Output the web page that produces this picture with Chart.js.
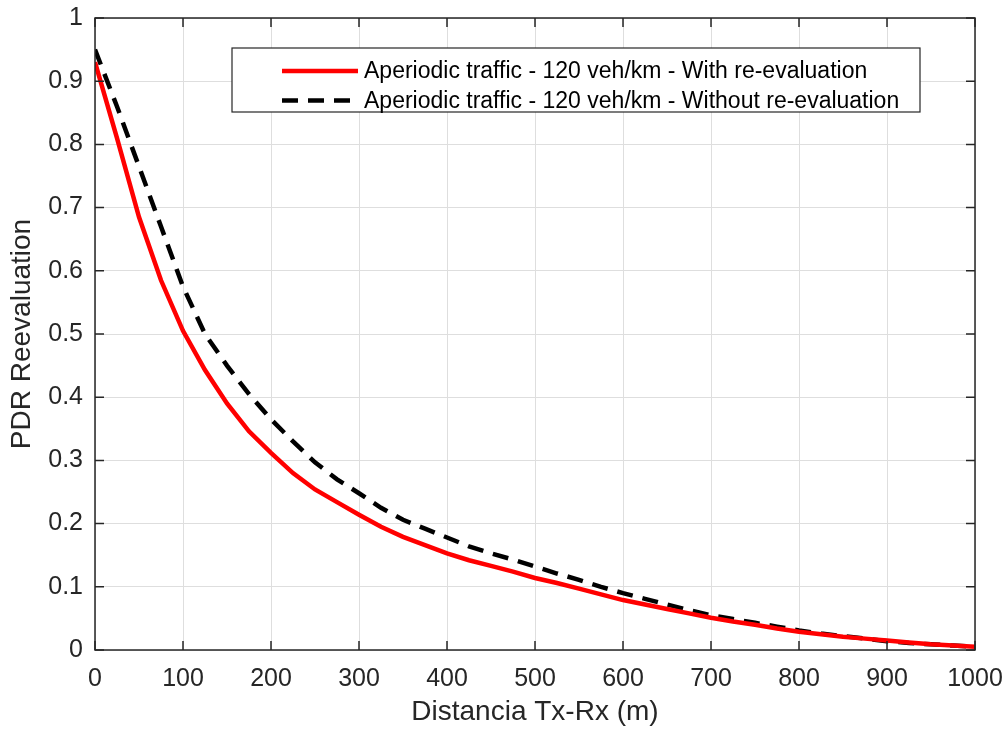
<!DOCTYPE html>
<html>
<head>
<meta charset="utf-8">
<script src="https://cdn.jsdelivr.net/npm/chart.js@4/dist/chart.umd.min.js"></script>
<style>
  html, body { margin: 0; padding: 0; background: #fff; }
  #wrap { width: 1006px; height: 729px; }
</style>
</head>
<body>
<div id="wrap"><canvas id="pdr-canvas"></canvas></div>
<script>
    'use strict';

    // distance in metres, every 25 m
    var distances = [0, 25, 50, 75, 100, 125, 150, 175, 200, 225, 250, 275, 300, 325, 350, 375, 400,
        425, 450, 475, 500, 525, 550, 575, 600, 625, 650, 675, 700, 725, 750, 775, 800,
        825, 850, 875, 900, 925, 950, 975, 1000];

    var pdrWith = [0.93, 0.81, 0.685, 0.585, 0.505, 0.443, 0.39, 0.346, 0.312, 0.28, 0.254, 0.234, 0.214, 0.195, 0.179, 0.166, 0.153,
        0.142, 0.133, 0.124, 0.114, 0.106, 0.097, 0.088, 0.079, 0.072, 0.065, 0.058, 0.051, 0.045, 0.04, 0.034, 0.029,
        0.025, 0.021, 0.018, 0.015, 0.012, 0.009, 0.007, 0.005];

    var pdrWithout = [0.95, 0.86, 0.765, 0.67, 0.575, 0.5, 0.45, 0.405, 0.365, 0.33, 0.297, 0.27, 0.248, 0.225, 0.206, 0.192, 0.178,
        0.164, 0.153, 0.143, 0.132, 0.121, 0.111, 0.1, 0.09, 0.081, 0.072, 0.063, 0.055, 0.049, 0.043, 0.037, 0.031,
        0.026, 0.022, 0.018, 0.014, 0.011, 0.009, 0.007, 0.005];

    var seriesLabels = [
        'Aperiodic traffic - 120 veh/km - With re-evaluation',
        'Aperiodic traffic - 120 veh/km - Without re-evaluation'
    ];

    var xTicks = [0, 100, 200, 300, 400, 500, 600, 700, 800, 900, 1000];
    var yTicks = [0, 0.1, 0.2, 0.3, 0.4, 0.5, 0.6, 0.7, 0.8, 0.9, 1];

    var axisColor = '#262626';
    var fontFamily = 'Arial, "Liberation Sans", Helvetica, sans-serif';

    function toPoints(ys) {
        return distances.map(function(d, i) { return { x: d, y: ys[i] }; });
    }

    // box around the axes plus inward ticks on all four sides
    var boxPlugin = {
        id: 'boxPlugin',
        afterDatasetsDraw: function(chart) {
            var ctx = chart.ctx;
            var a = chart.chartArea;
            var xs = chart.scales.x;
            var ys = chart.scales.y;
            ctx.save();
            ctx.strokeStyle = axisColor;
            ctx.lineWidth = 1.5;
            ctx.strokeRect(a.left, a.top, a.right - a.left, a.bottom - a.top);
            ctx.beginPath();
            xTicks.forEach(function(v) {
                var px = xs.getPixelForValue(v);
                ctx.moveTo(px, a.bottom); ctx.lineTo(px, a.bottom - 9);
                ctx.moveTo(px, a.top); ctx.lineTo(px, a.top + 9);
            });
            yTicks.forEach(function(v) {
                var py = ys.getPixelForValue(v);
                ctx.moveTo(a.left, py); ctx.lineTo(a.left + 9, py);
                ctx.moveTo(a.right, py); ctx.lineTo(a.right - 9, py);
            });
            ctx.stroke();
            ctx.restore();
        }
    };

    // boxed legend in the upper right
    var legendPlugin = {
        id: 'boxLegend',
        afterDraw: function(chart) {
            var ctx = chart.ctx;
            var bx = 232, by = 48, bw = 688, bh = 64;
            ctx.save();
            ctx.fillStyle = '#fff';
            ctx.fillRect(bx, by, bw, bh);
            ctx.strokeStyle = axisColor;
            ctx.lineWidth = 1.2;
            ctx.strokeRect(bx, by, bw, bh);
            ctx.font = '23px ' + fontFamily;
            ctx.textBaseline = 'middle';
            chart.data.datasets.forEach(function(ds, i) {
                var ry = by + 23 + i * 29.5;
                ctx.beginPath();
                ctx.strokeStyle = ds.borderColor;
                ctx.lineWidth = ds.borderWidth;
                ctx.setLineDash(ds.borderDash || []);
                ctx.moveTo(282, ry);
                ctx.lineTo(358, ry);
                ctx.stroke();
                ctx.setLineDash([]);
                ctx.fillStyle = '#000';
                ctx.fillText(ds.label, 364, ry + 1);
            });
            ctx.restore();
        }
    };

    var ctx = document.getElementById('pdr-canvas').getContext('2d');
    var chartObj = new Chart(ctx, {
        type: 'line',
        data: {
            datasets: [{
                label: seriesLabels[0],
                data: toPoints(pdrWith),
                borderColor: '#ff0000',
                borderWidth: 4.5,
                pointRadius: 0,
                tension: 0,
                fill: false
            }, {
                label: seriesLabels[1],
                data: toPoints(pdrWithout),
                borderColor: '#000000',
                borderWidth: 4.5,
                borderDash: [16, 10],
                pointRadius: 0,
                tension: 0,
                fill: false
            }]
        },
        options: {
            responsive: true,
            maintainAspectRatio: false,
            animation: false,
            layout: { padding: { top: 18, right: 31, left: 0, bottom: 0 } },
            plugins: {
                legend: { display: false },
                tooltip: { enabled: false }
            },
            scales: {
                x: {
                    type: 'linear',
                    min: 0,
                    max: 1000,
                    afterBuildTicks: function(scale) {
                        scale.ticks = xTicks.map(function(v) { return { value: v }; });
                    },
                    afterFit: function(scale) {
                        scale.height = 79;
                        scale.paddingLeft = 0;
                        scale.paddingRight = 0;
                    },
                    border: { display: false },
                    grid: { color: '#dedede', lineWidth: 1, drawTicks: false },
                    ticks: {
                        color: axisColor,
                        padding: 14,
                        maxRotation: 0,
                        font: { size: 25, family: fontFamily },
                        callback: function(v) { return String(v); }
                    },
                    title: {
                        display: true,
                        text: 'Distancia Tx-Rx (m)',
                        color: axisColor,
                        padding: { top: 0, bottom: 0 },
                        font: { size: 28, family: fontFamily }
                    }
                },
                y: {
                    type: 'linear',
                    min: 0,
                    max: 1,
                    afterBuildTicks: function(scale) {
                        scale.ticks = yTicks.map(function(v) { return { value: v }; });
                    },
                    afterFit: function(scale) {
                        scale.width = 95;
                        scale.paddingTop = 0;
                        scale.paddingBottom = 0;
                    },
                    border: { display: false },
                    grid: { color: '#dedede', lineWidth: 1, drawTicks: false },
                    ticks: {
                        color: axisColor,
                        padding: 12,
                        font: { size: 25, family: fontFamily },
                        callback: function(v) { return String(Math.round(v * 10) / 10); }
                    },
                    title: {
                        display: true,
                        text: 'PDR Reevaluation',
                        color: axisColor,
                        padding: { top: 5, bottom: 0 },
                        font: { size: 28, family: fontFamily }
                    }
                }
            }
        },
        plugins: [boxPlugin, legendPlugin]
    });
</script>
</body>
</html>
